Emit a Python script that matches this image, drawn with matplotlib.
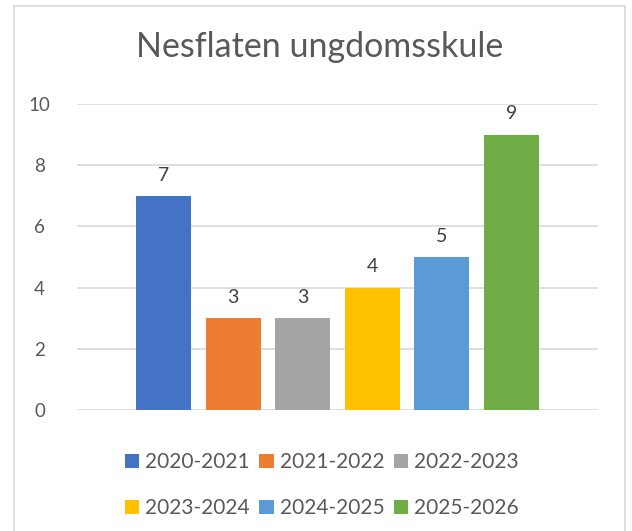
import matplotlib.pyplot as plt
from matplotlib.patches import Rectangle

# Data
seasons = ["2020-2021", "2021-2022", "2022-2023", "2023-2024", "2024-2025", "2025-2026"]
counts = [7, 3, 3, 4, 5, 9]
colors = ["#4472C4", "#ED7D31", "#A5A5A5", "#FFC000", "#5B9BD5", "#70AD47"]
yticks = [0, 2, 4, 6, 8, 10]

text_color = "#595959"
grid_color = "#D9D9D9"
plt.rcParams['font.family'] = ['Lato', 'DejaVu Sans']

fig = plt.figure(figsize=(6.32, 5.31), dpi=100)
ax = fig.add_axes([77 / 632, 1 - 410 / 531, (598 - 77) / 632, (410 - 104) / 531])

# Chart border
fig.add_artist(Rectangle((14 / 632, -0.05), (625 - 14) / 632, 1.05 - 6 / 531,
                         transform=fig.transFigure, fill=False,
                         edgecolor=grid_color, linewidth=1.2))

# Bars
bars = []
for i, (s, c, col) in enumerate(zip(seasons, counts, colors)):
    b = ax.bar(i, c, width=0.79, color=col, label=s, zorder=3)
    bars.append(b)
    ax.text(i, c + 0.4, str(c), ha="center", va="bottom",
            fontsize=14, color="#404040")

ax.set_xlim(-1.25, 6.25)
ax.set_ylim(0, 10)
ax.set_yticks(yticks)
ax.set_xticks([])
ax.yaxis.grid(True, color=grid_color, linewidth=1.2, zorder=0)
for sp in ax.spines.values():
    sp.set_visible(False)
ax.tick_params(axis="y", length=0, labelsize=13.5, labelcolor=text_color, pad=27)
for lbl in ax.get_yticklabels():
    lbl.set_horizontalalignment("center")

fig.text(320 / 632, 1 - 57 / 531, "Nesflaten ungdomsskule", ha="center", va="baseline",
         fontsize=24.5, color=text_color)

# Legend, row-major order like Excel
order = [0, 3, 1, 4, 2, 5]
fig.legend(handles=[bars[i][0] for i in order], labels=[seasons[i] for i in order], ncol=3,
           loc="center", bbox_to_anchor=(322 / 632, 1 - 485 / 531),
           frameon=False, fontsize=15, labelcolor=text_color,
           handlelength=0.68, handleheight=0.68, handletextpad=0.3,
           columnspacing=0.45, labelspacing=1.25)

fig.savefig("out.png", dpi=100)
